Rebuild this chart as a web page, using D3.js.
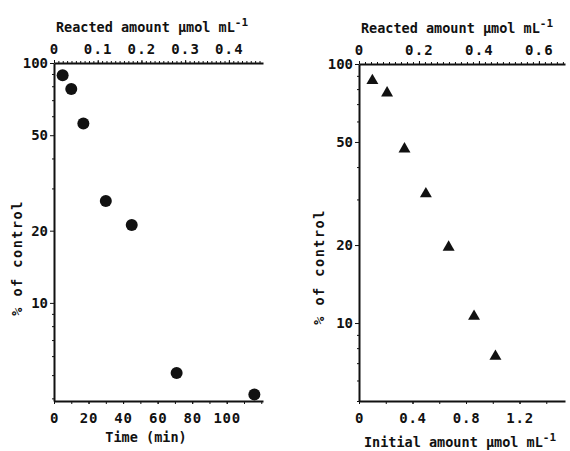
<!DOCTYPE html>
<html>
<head>
<meta charset="utf-8">
<script src="https://cdn.jsdelivr.net/npm/d3@7"></script>
<style>
  body { margin: 0; background: #fff; }
  svg text { font-family: "DejaVu Sans Mono", "Liberation Mono", monospace; font-weight: bold; fill: #111; }
  .axis path, .axis line { stroke: #111; }
</style>
</head>
<body>
<div id="chart"></div>
<script>
// left panel: % of control vs time
const timeMin = [5, 10, 17, 30, 45, 71, 116];
const ctrlA = [89, 78, 56, 26.6, 21.1, 5.1, 4.15];
// right panel: % of control vs initial amount
const initAmt = [0.10, 0.21, 0.34, 0.50, 0.67, 0.86, 1.02];
const ctrlB = [87, 78, 47.4, 31.8, 19.8, 10.7, 7.5];

const yTickVals = [10, 20, 50, 100];
const timeTicks = [0, 20, 40, 60, 80, 100];
const initTicks = [0, 0.4, 0.8, 1.2];
const reactTicksA = [0, 0.1, 0.2, 0.3, 0.4];
const reactTicksB = [0, 0.2, 0.4, 0.6];

const svg = d3.select('#chart').append('svg')
  .attr('width', 570).attr('height', 451);

function fmt(d) { return d === 0 ? '0' : String(d); }

function panel(opt) {
  const g = svg.append('g');
  const x = opt.x, xt = opt.xt, y = opt.y;
  const [x0, x1] = x.range();
  const [yb, yt] = y.range();

  // minor log ticks on y
  const minor = [];
  [1, 10].forEach(dec => { for (let k = 2; k <= 9; k++) minor.push(k * dec); });
  const minorIn = minor.filter(v => v >= y.domain()[0] && v <= 100 && !yTickVals.includes(v));
  g.append('g').attr('class', 'axis')
    .attr('transform', `translate(${x0},0)`)
    .call(d3.axisLeft(y).tickValues(minorIn).tickSize(2).tickFormat(''))
    .call(a => a.select('.domain').remove());
  g.append('g').attr('class', 'axis')
    .attr('transform', `translate(${x0},0)`)
    .call(d3.axisLeft(y).tickValues(yTickVals.filter(v => v >= y.domain()[0])).tickSize(4).tickSizeOuter(0).tickPadding(2).tickFormat(d3.format('d')))
    .call(a => a.select('.domain').attr('stroke-width', 2))
    .call(a => a.selectAll('text').attr('font-size', 14));

  // bottom axis
  g.append('g').attr('class', 'axis')
    .attr('transform', `translate(0,${yb})`)
    .call(d3.axisBottom(x).ticks(opt.bottomMinor).tickSize(3).tickSizeOuter(0).tickFormat(''))
    .call(a => a.select('.domain').attr('stroke-width', 2));
  g.append('g').attr('class', 'axis')
    .attr('transform', `translate(0,${yb})`)
    .call(d3.axisBottom(x).tickValues(opt.bottomTicks).tickSize(3).tickSizeOuter(0).tickPadding(9).tickFormat(fmt))
    .call(a => a.select('.domain').remove())
    .call(a => a.selectAll('text').attr('font-size', 14).attr('letter-spacing', 0.8));

  // top axis
  g.append('g').attr('class', 'axis')
    .attr('transform', `translate(0,${yt})`)
    .call(d3.axisTop(xt).ticks(opt.topMinor).tickSize(2).tickSizeOuter(0).tickFormat(''))
    .call(a => a.select('.domain').attr('stroke-width', 2));
  g.append('g').attr('class', 'axis')
    .attr('transform', `translate(0,${yt})`)
    .call(d3.axisTop(xt).tickValues(opt.topTicks).tickSize(3).tickSizeOuter(0).tickPadding(6).tickFormat(d => d === 0 ? '0' : d.toFixed(1)))
    .call(a => a.select('.domain').remove())
    .call(a => a.selectAll('text').attr('font-size', 14).attr('letter-spacing', 1.2));

  // titles
  const tt = g.append('text')
    .attr('x', opt.topTitleX).attr('y', yt - 31)
    .attr('text-anchor', 'middle').attr('font-size', 13.5)
    .text('Reacted amount \u03bcmol mL');
  tt.append('tspan').attr('dy', -6).attr('font-size', 11).text('-1');

  const bt = g.append('text')
    .attr('x', opt.bottomTitleX).attr('y', opt.bottomTitleY)
    .attr('text-anchor', 'middle').attr('font-size', 13.5)
    .text(opt.bottomTitle);
  if (opt.bottomSup) bt.append('tspan').attr('dy', -6).attr('font-size', 11).text('-1');

  g.append('text')
    .attr('transform', `translate(${opt.yTitleX},${opt.yTitleY}) rotate(-90)`)
    .attr('text-anchor', 'middle').attr('font-size', 13.5).attr('letter-spacing', 1.5)
    .text('% of control');

  return g;
}

// left
const xA = d3.scaleLinear().domain([0, 121]).range([54, 263]);
const xAt = d3.scaleLinear().domain([0, 0.478]).range([54, 263]);
const yA = d3.scaleLog().domain([3.9, 100]).range([401, 63]);
const gA = panel({ x: xA, xt: xAt, y: yA, bottomTicks: timeTicks, bottomMinor: 12, topTicks: reactTicksA, topMinor: 48,
  topTitleX: 152, bottomTitleX: 146, bottomTitleY: 442, bottomTitle: 'Time (min)', bottomSup: false, yTitleX: 22, yTitleY: 258 });
gA.selectAll('.dotA').data(timeMin).enter().append('circle')
  .attr('cx', d => xA(d))
  .attr('cy', (d, i) => yA(ctrlA[i]))
  .attr('r', 6)
  .attr('fill', '#111');

// right
const xB = d3.scaleLinear().domain([0, 1.54]).range([359, 565]);
const xBt = d3.scaleLinear().domain([0, 0.687]).range([359, 565]);
const yB = d3.scaleLog().domain([5, 100]).range([401, 64]);
const gB = panel({ x: xB, xt: xBt, y: yB, bottomTicks: initTicks, bottomMinor: 8, topTicks: reactTicksB, topMinor: 34,
  topTitleX: 457, bottomTitleX: 460, bottomTitleY: 447, bottomTitle: 'Initial amount \u03bcmol mL', bottomSup: true, yTitleX: 324, yTitleY: 267 });
gB.selectAll('.triB').data(initAmt).enter().append('path')
  .attr('transform', (d, i) => `translate(${xB(d)},${yB(ctrlB[i]) + 1})`)
  .attr('d', d3.symbol(d3.symbolTriangle).size(62))
  .attr('fill', '#111');
</script>
</body>
</html>
